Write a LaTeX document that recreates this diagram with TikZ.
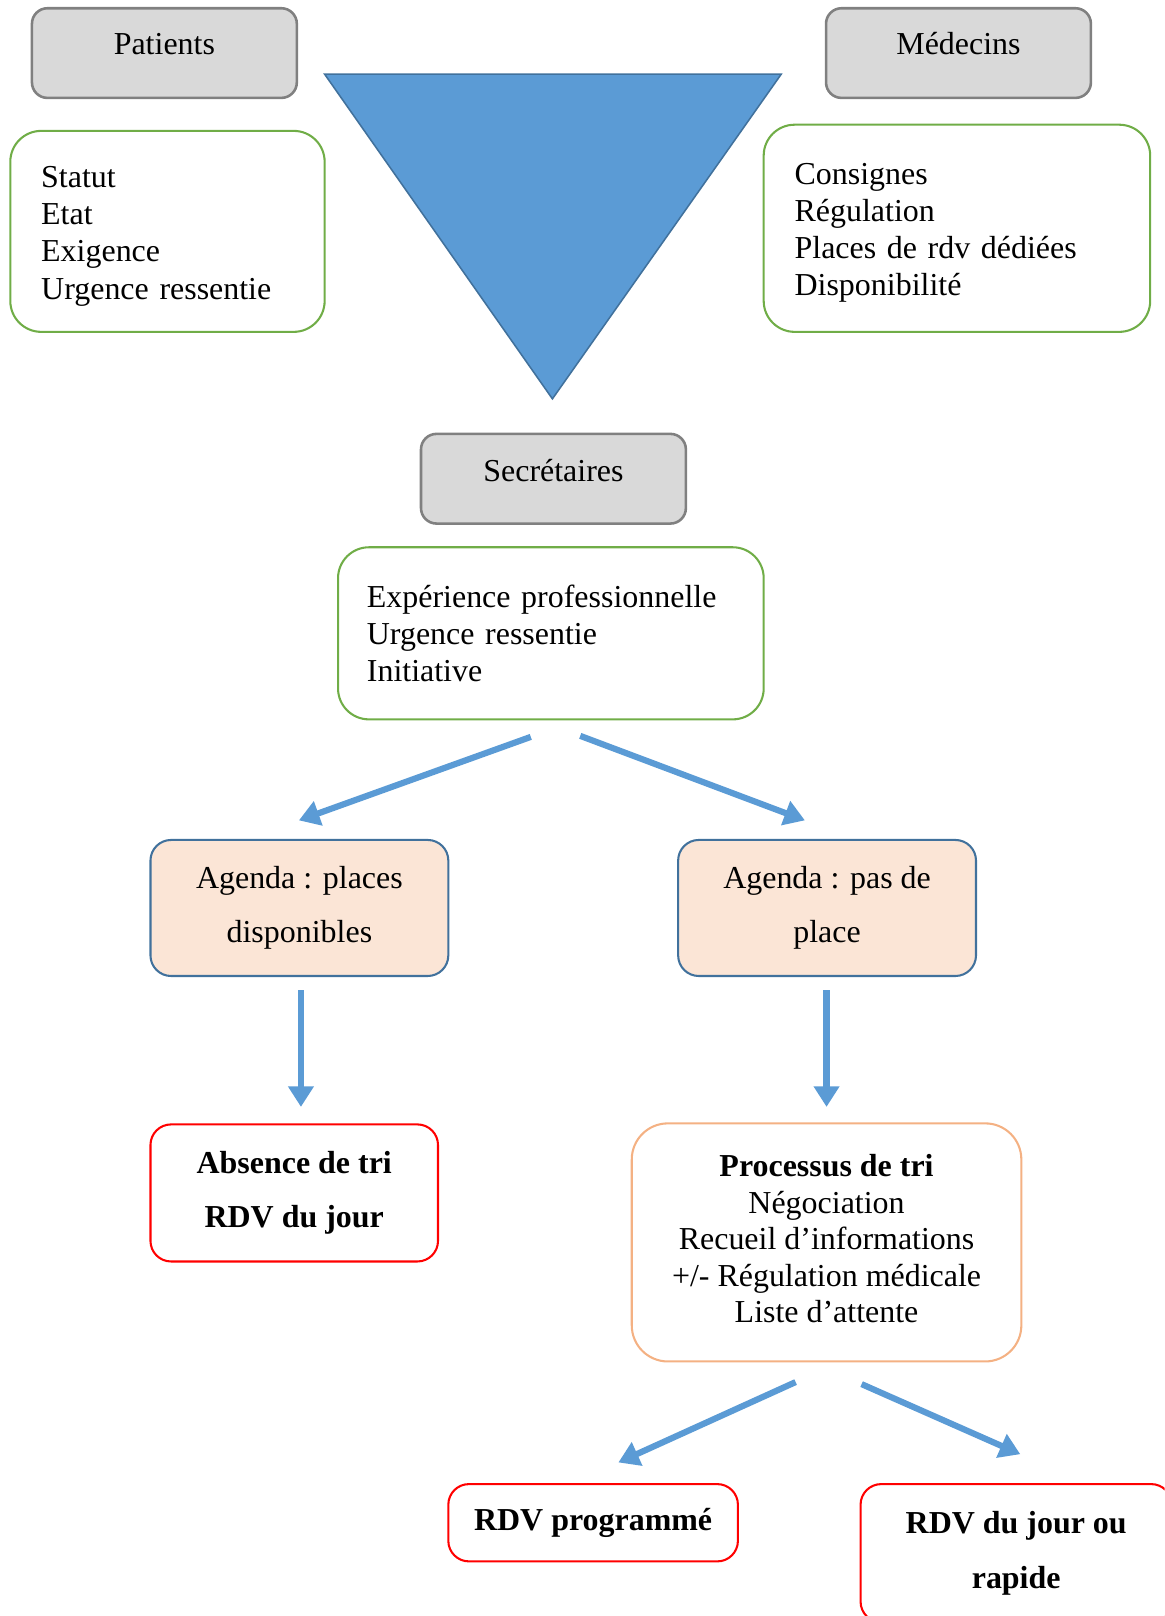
\documentclass[tikz,border=0pt]{standalone}
\usepackage{fontspec}
\setmainfont{Liberation Serif}
\usetikzlibrary{arrows.meta,calc}
\definecolor{gfill}{HTML}{D9D9D9}
\definecolor{gline}{HTML}{808080}
\definecolor{tri}{HTML}{5B9BD5}
\definecolor{triline}{HTML}{41719C}
\definecolor{grn}{HTML}{70AD47}
\definecolor{peach}{HTML}{FBE5D6}
\definecolor{orng}{HTML}{F4B183}
\definecolor{rd}{HTML}{FF0000}
\begin{document}
\begin{tikzpicture}[x=1pt,y=-1pt,
  txt/.style={font=\fontsize{31}{36}\selectfont, inner sep=0pt},
  graybox/.style={draw=gline, fill=gfill, line width=2.5pt, rounded corners=15pt,
    minimum width=257pt, minimum height=87pt},
  greenbox/.style={draw=grn, line width=2pt, rounded corners=30pt, align=left,
    font=\fontsize{31}{36}\selectfont, inner ysep=0pt},
  agbox/.style={draw=triline, fill=peach, line width=2pt, rounded corners=20pt, align=center,
    font=\fontsize{31}{53}\selectfont, minimum width=289pt, minimum height=132pt},
  redbox/.style={draw=rd, line width=2pt, rounded corners=20pt, align=center,
    font=\fontsize{31}{53}\selectfont\bfseries},
  procbox/.style={draw=orng, line width=2pt, rounded corners=35pt, align=center,
    font=\fontsize{31}{35.3}\selectfont, minimum width=378pt, minimum height=231pt},
  arr/.style={draw=tri, line width=6pt, -{Triangle[width=24pt,length=20pt]}}
]
\clip (0,0) rectangle (1130,1568);

% triangle
\path[fill=tri, draw=triline, line width=1.5pt, line join=miter]
  (315,72) -- (758,72) -- (536,387) -- cycle;

% gray header boxes
\node[graybox] (pat) at (159.5,51.5) {};
\node[txt] (patT) at (159.5,43) {Patients};
\node[graybox] (med) at (930,51.5) {};
\node[txt] (medT) at (930,42) {Médecins};
\node[graybox] (sec) at (537,464.5) {};
\node[txt] (secT) at (537,457) {Secrétaires};

% green boxes
\node[greenbox, inner xsep=30pt, text width=245pt, minimum height=195pt] (pg) at (162.5,224.5)
  {\rule{0pt}{30pt}Statut\\Etat\\Exigence\\Urgence ressentie};
\node[greenbox, inner xsep=30pt, text width=315pt, minimum height=201pt] (mg) at (928.5,221.5)
  {\rule{0pt}{30pt}Consignes\\Régulation\\Places de rdv dédiées\\Disponibilité};
\node[greenbox, inner xsep=28pt, text width=357pt, minimum height=167pt] (sg) at (534.5,614.5)
  {Expérience professionnelle\\Urgence ressentie\\Initiative};

% agenda boxes
\node[agbox] (ag1) at (290.5,881) {Agenda : places\\disponibles};
\node[agbox] (ag2) at (802.5,881) {Agenda : pas de\\place};

% outcome boxes
\node[redbox, minimum width=279pt, minimum height=133pt] (abs) at (285.5,1157.5)
  {Absence de tri\\RDV du jour};
\node[procbox] (proc) at (802,1205.5)
  {\textbf{Processus de tri}\\Négociation\\Recueil d’informations\\+/- Régulation médicale\\Liste d’attente\par\vspace*{7pt}};
\node[redbox, minimum width=281pt, minimum height=75pt] (prog) at (575.5,1477.5)
  {RDV programmé};
\node[redbox, minimum width=302pt, minimum height=134pt] (rj) at (986,1507)
  {RDV du jour ou\\rapide};

% arrows
\draw[arr] ($(sg.south)+(-19.5,16)$) -- ($(ag1.north)+(-0.5,-18)$);
\draw[arr] ($(sg.south)+(28.5,15)$) -- ($(ag2.north)+(-21.5,-18)$);
\draw[arr] ($(ag1.south)+(1.5,13)$) -- ($(ag1.south |- abs.north)+(1.5,-16)$);
\draw[arr] ($(ag2.south)+(-0.5,13)$) -- ($(ag2.south |- proc.north)+(-0.5,-15)$);
\draw[arr] ($(proc.south)+(-30,19)$) -- ($(prog.north)+(24.5,-20)$);
\draw[arr] ($(proc.south)+(34,21)$) -- ($(rj.north)+(4,-28)$);
\end{tikzpicture}
\end{document}
